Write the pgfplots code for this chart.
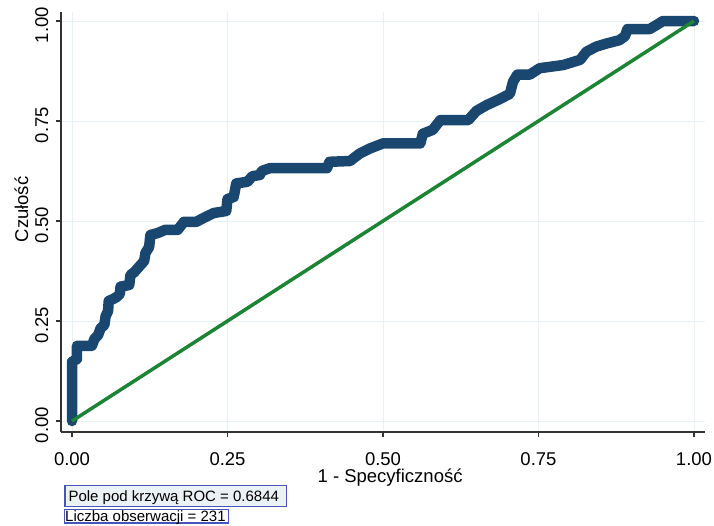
\documentclass[border=0pt]{standalone}
\usepackage{fontspec}
\setmainfont{Liberation Sans}
\usepackage{pgfplots}
\pgfplotsset{compat=1.18}
\definecolor{navyc}{RGB}{26,71,111}
\definecolor{greenc}{RGB}{28,132,52}
\definecolor{gridc}{RGB}{232,241,243}
\definecolor{boxborder}{RGB}{72,84,186}
\definecolor{boxfill}{RGB}{234,242,246}
\begin{document}
\begin{tikzpicture}
\useasboundingbox (0,0) rectangle (714pt,-525pt);
\begin{axis}[
  at={(61pt,-432pt)}, anchor=south west,
  scale only axis, width=644pt, height=420pt,
  xmin=-0.0177, xmax=1.0177, ymin=-0.0275, ymax=1.0225,
  axis x line*=bottom, axis y line*=left,
  axis line style={-, line width=1.2pt, color=black!80},
  tick style={line width=1.2pt, color=black!80},
  tick align=outside, major tick length=5pt,
  xtick={0,0.25,0.5,0.75,1}, ytick={0,0.25,0.5,0.75,1},
  grid=major, grid style={color=gridc, line width=0.9pt},
  /pgf/number format/fixed, /pgf/number format/fixed zerofill,
  /pgf/number format/precision=2, /pgf/number format/assume math mode=true,
  tick label style={font=\fontsize{18.5}{20}\selectfont},
  xticklabel style={anchor=base, yshift=-28pt},
  yticklabel style={rotate=90, anchor=base, xshift=-4pt, yshift=8pt},
  xlabel={1 - Specyficzność},
  ylabel={Czułość},
  label style={font=\fontsize{18.5}{20}\selectfont},
  xlabel style={at={(axis description cs:0.511,-0.1214)}, anchor=base},
  ylabel style={at={(axis description cs:-0.0512,0.53)}, anchor=base, rotate=0},
  clip=false,
]
\addplot[navyc, line width=10.5pt, line cap=round, line join=round] coordinates {
(0,0) (0,0.148) (0.008,0.155) (0.008,0.188) (0.032,0.188) (0.036,0.205)
(0.042,0.215) (0.046,0.232) (0.052,0.24) (0.054,0.262) (0.058,0.275)
(0.059,0.30) (0.066,0.305) (0.072,0.31) (0.077,0.318) (0.078,0.336)
(0.092,0.34) (0.094,0.365) (0.100,0.372) (0.108,0.386) (0.116,0.40)
(0.118,0.42) (0.124,0.435) (0.126,0.465) (0.138,0.47) (0.150,0.478)
(0.170,0.478) (0.176,0.49) (0.180,0.498) (0.200,0.498) (0.212,0.508)
(0.228,0.52) (0.248,0.525) (0.250,0.555) (0.260,0.56) (0.264,0.594)
(0.282,0.598) (0.290,0.612) (0.302,0.615) (0.305,0.625) (0.318,0.632)
(0.410,0.632) (0.414,0.648) (0.447,0.65) (0.462,0.668) (0.480,0.682)
(0.500,0.694) (0.560,0.694) (0.564,0.718) (0.580,0.728) (0.592,0.752)
(0.637,0.752) (0.650,0.775) (0.667,0.79) (0.688,0.805) (0.704,0.818)
(0.709,0.848) (0.716,0.866) (0.736,0.866) (0.752,0.882) (0.790,0.89)
(0.817,0.903) (0.827,0.923) (0.843,0.936) (0.860,0.944) (0.880,0.952)
(0.889,0.962) (0.893,0.98) (0.929,0.98) (0.945,0.995) (0.950,1) (1,1)
};
\addplot[greenc, line width=3.5pt] coordinates {(0,0) (1,1)};
\end{axis}
\filldraw[draw=boxborder, fill=boxfill, line width=1.2pt] (65pt,-485.3pt) rectangle (286.7pt,-506.3pt);
\node[anchor=base west, inner sep=0pt, font=\fontsize{15}{18}\selectfont] at (68.3pt,-501.3pt) {Pole pod krzywą ROC = 0.6844};
\draw[draw=boxborder, line width=1.2pt] (64.3pt,-509.7pt) rectangle (228.3pt,-523pt);
\node[anchor=base west, inner sep=0pt, font=\fontsize{15}{18}\selectfont] at (65pt,-521.3pt) {Liczba obserwacji = 231};
\end{tikzpicture}
\end{document}
